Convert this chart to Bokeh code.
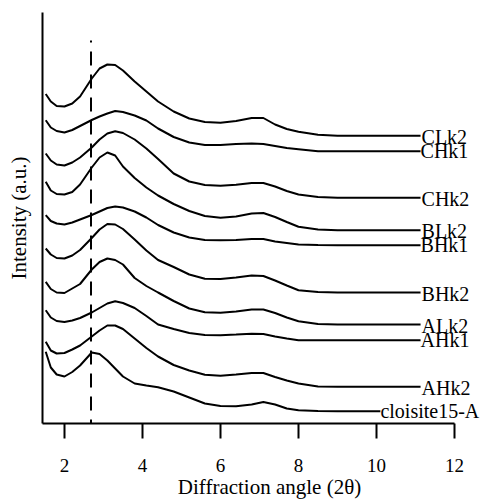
from bokeh.plotting import figure
from bokeh.models import FixedTicker, Range1d
from bokeh.core.properties import value
from bokeh.embed import file_html
from bokeh.resources import INLINE

# --- data (stacked XRD patterns, intensity in a.u.) ---
two_theta = [1.52, 1.65, 1.8, 2.0, 2.2, 2.4, 2.7, 2.9, 3.1, 3.3, 3.5, 3.8, 4.1,
             4.4, 4.8, 5.2, 5.6, 6.0, 6.4, 6.8, 7.1, 7.4, 7.7, 8.0, 8.5, 9.0]
end_theta = [11.13, 11.13, 11.13, 11.13, 11.13, 11.13, 11.13, 11.13, 11.13, 10.1]

names = ["CLk2", "CHk1", "CHk2", "BLk2", "BHk1", "BHk2", "ALk2", "AHk1", "AHk2", "cloisite15-A"]

CLk2 = [329.5, 322, 317.5, 317, 320, 327, 345, 355, 359, 358.5, 353, 342, 332,
        322, 312, 305, 301.5, 300.7, 302.5, 305.5, 305.5, 299, 294.5, 291.7, 288.7, 287.7, 287.7]
CHk1 = [303.3, 296, 292.5, 291, 293.5, 297.5, 303.5, 307, 310, 312.5, 311.5, 308, 303,
        295, 286.5, 281, 278.5, 278.5, 279.5, 280, 279.5, 277.5, 275.5, 274.3, 272.3, 272.3, 272.3]
CHk2 = [270, 263, 259, 258, 261, 266, 276, 284, 290, 292.3, 290.5, 284, 275,
        264.5, 250, 242, 238.5, 237.7, 238.7, 240.5, 240.5, 237, 232.5, 229, 226.5, 225.7, 225.7]
BLk2 = [241.7, 233, 229.5, 229, 231.5, 239, 256, 266, 271, 268, 257, 245.5, 236,
        228, 219.5, 212.5, 207.5, 205.7, 207, 210, 210.5, 206.5, 201.5, 196.7, 194, 193.3, 193.3]
BHk1 = [208.3, 202.5, 200, 199, 201, 204, 208.5, 212, 215.5, 217, 216, 212, 206,
        198.5, 191, 186, 183.5, 183.3, 183.5, 184.5, 184.5, 182, 180.5, 179, 178.5, 178.3, 178.3]
BHk2 = [175, 169, 165.5, 165, 168, 173.5, 185.5, 194, 199.5, 199, 194.5, 184, 173,
        163.5, 156.5, 149, 144.7, 144.5, 146, 148, 147.5, 143, 138, 133.3, 131.5, 131, 131]
ALk2 = [141.7, 134.5, 131, 130.5, 135, 139.5, 154, 161.5, 165, 163.5, 159, 145.5, 137.5,
        131, 122.5, 115, 111.3, 110.8, 112, 114, 114, 110.5, 106, 102.3, 99.5, 99, 99]
AHk1 = [113.3, 106, 102.5, 101.5, 103, 105.5, 111, 115.5, 120, 122.2, 120.5, 115.5, 107.5,
        99, 94.5, 90.5, 88.5, 88.3, 89, 89.8, 89.5, 87, 85, 83.3, 83.3, 83.3, 83.3]
AHk2 = [81.7, 73, 70, 70.5, 74, 78, 87, 93, 98, 98, 94.5, 85, 75.5,
        67, 58.5, 53, 48.7, 47.8, 49, 50.5, 50.5, 46.5, 43, 40, 37, 36.7, 36.7]
cloisite15A = [71.7, 56, 49, 47, 51.5, 58, 71, 69.5, 63, 55, 47, 40, 38,
               36.3, 32, 26, 20, 17.5, 17.3, 19, 21.5, 19, 15, 13.3, 12.5, 12.3, 12.3]

series = [CLk2, CHk1, CHk2, BLk2, BHk1, BHk2, ALk2, AHk1, AHk2, cloisite15A]
middle_labels = ["CHk1", "BHk1", "AHk1", "cloisite15-A"]

dash_theta = 2.68
dash_top = 383

x_ticks = [2, 4, 6, 8, 10, 12]
x_start, x_axis_end, x_end = 1.437, 12.0, 13.077
y_start, y_end = 0, 411

FONT = "Liberation Serif"

p = figure(frame_width=454, frame_height=411, output_backend="svg", toolbar_location=None,
           x_range=Range1d(x_start, x_end), y_range=Range1d(y_start, y_end),
           min_border_left=42, min_border_right=0, min_border_top=12, min_border_bottom=70)
p.outline_line_color = None
p.xgrid.visible = False
p.ygrid.visible = False
p.background_fill_color = "white"

# x axis
xa = p.xaxis[0]
xa.ticker = FixedTicker(ticks=x_ticks)
xa.bounds = (x_start, x_axis_end)
xa.axis_line_width = 2
xa.axis_line_color = "black"
xa.major_tick_line_width = 2
xa.major_tick_line_color = "black"
xa.major_tick_in = 0
xa.major_tick_out = 15
xa.minor_tick_line_color = None
xa.major_label_standoff = 20
xa.major_label_text_font = FONT
xa.major_label_text_font_size = "19px"
xa.major_label_text_color = "black"
xa.axis_label = "Diffraction angle (2θ)"
xa.axis_label_text_font = FONT
xa.axis_label_text_font_size = "21px"
xa.axis_label_text_font_style = "normal"
xa.axis_label_text_color = "black"
xa.axis_label_standoff = 0

# y axis
ya = p.yaxis[0]
ya.ticker = FixedTicker(ticks=[])
ya.axis_line_width = 2
ya.axis_line_color = "black"
ya.major_tick_in = 0
ya.major_tick_out = 0
ya.minor_tick_line_color = None
ya.major_label_standoff = 0
ya.axis_label = "Intensity (a.u.)"
ya.axis_label_text_font = FONT
ya.axis_label_text_font_size = "21px"
ya.axis_label_text_font_style = "normal"
ya.axis_label_text_color = "black"
ya.axis_label_standoff = 12

# dashed reference line (drawn from the top down)
p.segment(x0=[dash_theta], y0=[dash_top], x1=[dash_theta], y1=[y_start],
          line_color="black", line_width=2, line_dash="14 9", line_dash_offset=12)

# curves
for name, vals, xe in zip(names, series, end_theta):
    xs = two_theta + [xe]
    p.line(xs, vals, line_color="black", line_width=2)

# labels
lx_b, ly_b, lt_b = [], [], []
lx_m, ly_m, lt_m = [], [], []
for name, vals, xe in zip(names, series, end_theta):
    if name in middle_labels:
        lx_m.append(xe); ly_m.append(vals[-1]); lt_m.append(name)
    else:
        lx_b.append(xe); ly_b.append(vals[-1]); lt_b.append(name)

p.text(x=lx_b, y=ly_b, text=lt_b, text_font=value(FONT), text_font_size="20px",
       text_baseline="alphabetic", text_align="left", text_color="black", x_offset=1, y_offset=1)
p.text(x=lx_m, y=ly_m, text=lt_m, text_font=value(FONT), text_font_size="20px",
       text_baseline="middle", text_align="left", text_color="black", x_offset=0)

open("out.html", "w").write(file_html(p, INLINE))
